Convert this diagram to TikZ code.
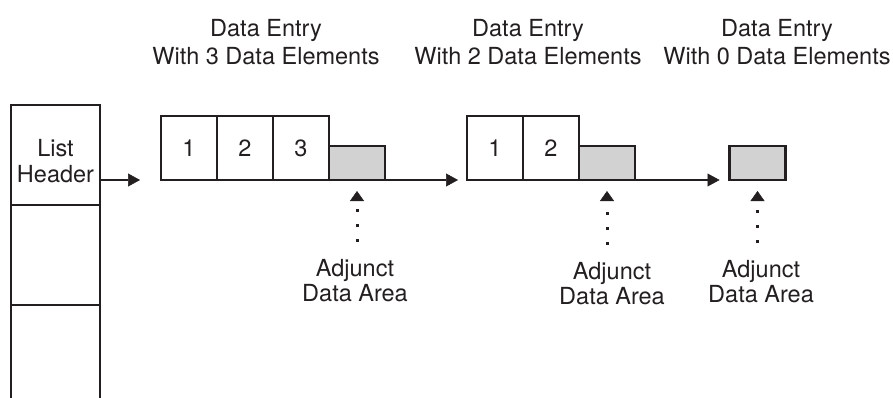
\documentclass[tikz,border=0pt]{standalone}
\usepackage{fontspec}
\setmainfont{TeX Gyre Heros}
\usetikzlibrary{arrows.meta,positioning}
\definecolor{adjgray}{RGB}{210,210,210}
\definecolor{inkblack}{RGB}{35,31,32}

\begin{document}
\begin{tikzpicture}[x=1pt,y=-1pt,inkblack,
  font=\fontsize{23.5}{28}\selectfont,
  cell/.style={draw,line width=2.2pt,outer sep=0pt,inner sep=0pt,
    minimum width=56pt,minimum height=64pt},
  adjunct/.style={cell,fill=adjgray,minimum height=34pt},
  column/.style={draw,line width=2.2pt,outer sep=0pt,minimum width=89pt,minimum height=100pt},
  link/.style={-{Triangle[length=12pt,width=13pt,line width=0.5pt]},line width=2.2pt},
  dots/.style={-{Triangle[length=10pt,width=14pt,line width=0.5pt]},line width=3pt,
    dash pattern=on 3pt off 12pt,shorten <=17pt,shorten >=11pt},
  title/.style={align=center,font=\fontsize{23.5}{28}\selectfont},
  note/.style={align=center,anchor=north,inner sep=0pt,font=\fontsize{23.5}{25}\selectfont}]

\useasboundingbox (0,0) rectangle (893,398);
\clip (0,0) rectangle (893,398);

%% list header column
\node[column] (hdr) at (55.5,155) {};
\node[column,below=0pt of hdr] (col2) {};
\node[column,below=0pt of col2] (col3) {};
\node[align=center,inner sep=0pt,font=\fontsize{23.5}{26}\selectfont] (hdrtext) at (55.5,161.5) {List\\Header};

%% titles
\node[title] (t1) at (266,42.5) {Data Entry\\With 3 Data Elements};
\node[title] (t2) at (528,42.5) {Data Entry\\With 2 Data Elements};
\node[title] (t3) at (777,42.5) {Data Entry\\With 0 Data Elements};

%% entry with 3 elements
\node[cell] (e1a) at (189,148) {1};
\node[cell,right=0pt of e1a] (e1b) {2};
\node[cell,right=0pt of e1b] (e1c) {3};
\node[adjunct,anchor=south west] (g1) at (e1c.south east) {};

%% entry with 2 elements
\node[cell] (e2a) at (495,148) {1};
\node[cell,right=0pt of e2a] (e2b) {2};
\node[adjunct,anchor=south west] (g2) at (e2b.south east) {};

%% entry with 0 elements
\node[adjunct] (g3) at (757.5,163) {};

%% chain links
\draw[link,shorten >=21pt] (hdr.east |- e1a.south) -- (e1a.south west);
\draw[link,shorten >=9pt] (g1.south east) -- (e2a.south west);
\draw[link,shorten >=10pt] (g2.south east) -- (g3.south west);

%% adjunct data area labels
\node[note] (n1) at (355,259) {Adjunct\\Data Area};
\node[note] (n2) at (612,262) {Adjunct\\Data Area};
\node[note] (n3) at (761,260) {Adjunct\\Data Area};

\draw[dots] (n1.north -| g1.south) -- (g1.south);
\draw[dots] (n2.north -| g2.south) -- (g2.south);
\draw[dots] (n3.north -| g3.south) -- (g3.south);

\end{tikzpicture}
\end{document}
